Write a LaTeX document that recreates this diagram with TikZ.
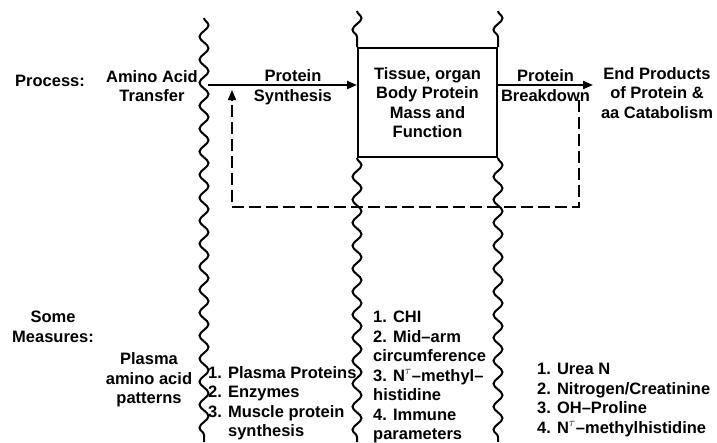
\documentclass[tikz,border=0pt]{standalone}
\usepackage{fontspec}
\setmainfont{Liberation Sans}
\usetikzlibrary{positioning,arrows.meta,decorations.pathmorphing}

\begin{document}
\begin{tikzpicture}[
  x=1pt, y=-1pt,
  font=\fontsize{16.5}{19.5}\selectfont\bfseries,
  >={Triangle[length=10pt,width=8pt]},
  wavy/.style={
    line width=2pt, decorate,
    decoration={snake, amplitude=4.5pt, segment length=23pt}
  },
  poolbox/.style={
    rectangle, draw, line width=2pt,
    minimum width=139pt, minimum height=109pt,
    align=center, inner sep=2pt
  },
  flow/.style={->, line width=2pt},
  feedback/.style={->, line width=1.8pt, dash pattern=on 12pt off 5pt},
  lbl/.style={align=center, inner sep=0pt},
  measure/.style={align=left, inner sep=0pt, anchor=north west}
]
  \useasboundingbox (0,0) rectangle (717,442);

  % Body protein pool
  \node[poolbox] (tissue) at (427.5,102.5) {
    Tissue, organ\\Body Protein\\Mass and\\Function
  };

  % Dividing wavy lines
  \draw[wavy] (204,18) -- (204,442);
  \draw[wavy] ([yshift=36pt]tissue.north west) -- (tissue.north west);
  \draw[wavy] ([yshift=36pt]tissue.north east) -- (tissue.north east);
  \draw[wavy] (tissue.south west) -- (tissue.south west |- 0,442);
  \draw[wavy] (tissue.south east) -- (tissue.south east |- 0,442);

  % Process row
  \node[anchor=west, inner sep=0pt] (process) at (15,81) {Process:};
  \node[lbl] (aatransfer) at (152,86) {Amino Acid\\Transfer};
  \node[lbl] (endprod) at (657,93) {End Products\\of Protein \&\\aa Catabolism};

  % Flow arrows
  \coordinate (synstart) at (208,85);
  \coordinate (brkend) at (593,85);
  \draw[flow] (synstart) -- node[pos=0.57, above=2pt, inner sep=0pt] {Protein}
    node[pos=0.57, below=4pt, inner sep=0pt] {Synthesis} (tissue.west |- synstart);
  \draw[flow] (tissue.east |- synstart) -- node[above=2pt, inner sep=0pt] {Protein}
    node[below=4pt, inner sep=0pt] {Breakdown} (brkend);

  % Feedback loop
  \coordinate (fbtop) at (579,100);
  \coordinate (fbcorner) at (232,207);
  \coordinate (fbtip) at (232,90);
  \draw[feedback] (fbtop) |- (fbcorner) -- (fbtip);

  % Measures row
  \node[lbl] (somemeas) at (53,327) {Some\\Measures:};
  \node[lbl] (plasmaaa) at (149,380) {Plasma\\amino acid\\patterns};
  \node[measure] (synmeas) at (208,366) {
    1. Plasma Proteins\\2. Enzymes\\3. Muscle protein\\\phantom{3. }synthesis
  };
  \node[measure] (poolmeas) at (373,311) {
    1. CHI\\2. Mid--arm\\circumference\\3. N$^{\tau}$--methyl--\\histidine\\4. Immune\\parameters
  };
  \node[measure] (brkmeas) at (537,363) {
    1. Urea N\\2. Nitrogen/Creatinine\\3. OH--Proline\\4. N$^{\tau}$--methylhistidine
  };

\end{tikzpicture}
\end{document}
